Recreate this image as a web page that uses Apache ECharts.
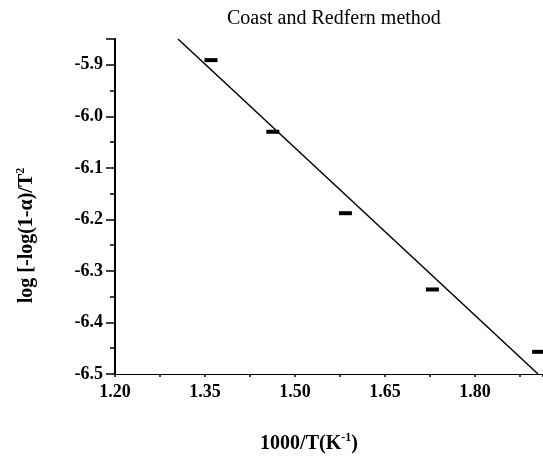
<!DOCTYPE html>
<html>
<head>
<meta charset="utf-8">
<script src="https://cdn.jsdelivr.net/npm/echarts@6/dist/echarts.min.js"></script>
<style>html,body{margin:0;padding:0;background:#fff;}#c{width:543px;height:462px;}</style>
</head>
<body>
<div id="c"></div>
<script>
// Data
var xValues = [1.360, 1.463, 1.584, 1.729, 1.906];
var yValues = [-5.891, -6.030, -6.188, -6.336, -6.457];
var fitX = [1.305, 1.905];
var fitY = [-5.85, -6.50];
var titleText = 'Coast and Redfern method';

var chart = echarts.init(document.getElementById('c'), null, {renderer: 'canvas'});
var serif = '"Liberation Serif", "Times New Roman", serif';
chart.setOption({
  animation: false,
  backgroundColor: '#fff',
  title: {
    text: titleText, left: 227, top: 9, padding: 0,
    textStyle: {fontFamily: serif, fontSize: 20, fontWeight: 'normal', color: '#000'}
  },
  grid: {left: 115, top: 39, right: 0, bottom: 88, containLabel: false, outerBoundsMode: 'none'},
  xAxis: {
    type: 'value', min: 1.2, max: 1.9133, interval: 0.15,
    name: '{a|1000/T(K}{s|-1}{a|)}', nameLocation: 'middle', nameGap: 58,
    nameTextStyle: {
      padding: [0, 0, 0, -40],
      rich: {
        a: {fontFamily: serif, fontSize: 20, fontWeight: 'bold', color: '#000', lineHeight: 22, verticalAlign: 'bottom'},
        s: {fontFamily: serif, fontSize: 12, fontWeight: 'bold', color: '#000', lineHeight: 22, verticalAlign: 'top', padding: [0, 0, 9, 0]}
      }
    },
    axisLine: {show: true, onZero: false, lineStyle: {color: '#000', width: 1.2}},
    axisTick: {show: true, inside: false, length: 3, lineStyle: {color: '#000', width: 1.5}},
    minorTick: {show: true, splitNumber: 2, length: 3, lineStyle: {color: '#000', width: 1.5}},
    splitLine: {show: false},
    axisLabel: {
      showMaxLabel: false, margin: 9, color: '#000', fontFamily: serif, fontSize: 18, fontWeight: 'bold',
      formatter: function (v) { return v.toFixed(2); }
    }
  },
  yAxis: {
    type: 'value', min: -6.5, max: -5.85, interval: 0.1,
    name: '{a|log [-log(1-α)/T}{s|2}', nameLocation: 'middle', nameGap: 78, nameRotate: 90,
    nameTextStyle: {
      padding: [0, 58, 0, 0],
      rich: {
        a: {fontFamily: serif, fontSize: 20, fontWeight: 'bold', color: '#000', lineHeight: 22, verticalAlign: 'bottom'},
        s: {fontFamily: serif, fontSize: 12, fontWeight: 'bold', color: '#000', lineHeight: 22, verticalAlign: 'top', padding: [0, 0, 9, 0]}
      }
    },
    axisLine: {show: true, onZero: false, lineStyle: {color: '#000', width: 2}},
    axisTick: {show: true, inside: false, length: 9, lineStyle: {color: '#000', width: 1.5}},
    minorTick: {show: true, splitNumber: 2, length: 5, lineStyle: {color: '#000', width: 1.5}},
    splitLine: {show: false},
    axisLabel: {
      showMaxLabel: false, margin: 12, color: '#000', fontFamily: serif, fontSize: 18, fontWeight: 'bold',
      formatter: function (v) { return v.toFixed(1); }
    }
  },
  series: [
    {
      type: 'line', data: fitX.map(function (x, i) { return [x, fitY[i]]; }),
      showSymbol: false, symbol: 'none', clip: true,
      lineStyle: {color: '#000', width: 1.5}
    },
    {
      type: 'scatter', data: xValues.map(function (x, i) { return [x, yValues[i]]; }),
      symbol: 'rect', symbolSize: [13, 4], clip: false,
      itemStyle: {color: '#000', opacity: 1}
    }
  ]
});
</script>
</body>
</html>
